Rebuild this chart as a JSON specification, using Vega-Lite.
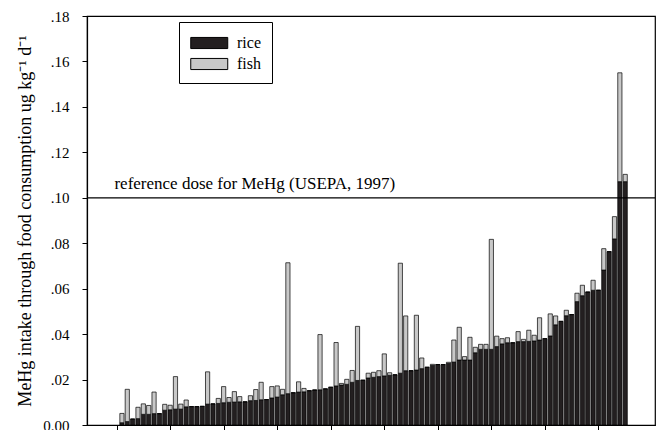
{
  "$schema": "https://vega.github.io/schema/vega-lite/v6.json",
  "width": 568,
  "height": 409,
  "autosize": {"type": "none"},
  "padding": {"left": 87, "top": 16, "right": 2, "bottom": 5},
  "background": "#ffffff",
  "config": {
    "font": "Liberation Serif",
    "view": {"stroke": "#000000", "strokeWidth": 1.2},
    "axis": {
      "domainColor": "#000000",
      "domainWidth": 1.2,
      "tickColor": "#000000",
      "tickWidth": 1,
      "tickSize": 5,
      "grid": false,
      "labelColor": "#000000",
      "labelFont": "Liberation Serif",
      "titleFont": "Liberation Serif",
      "titleColor": "#000000",
      "titleFontWeight": "normal"
    }
  },
  "layer": [
    {
      "data": {
        "values": [
          {"n": 1, "rice": 0.0010, "fish": 0.0041},
          {"n": 2, "rice": 0.0015, "fish": 0.0142},
          {"n": 3, "rice": 0.0026, "fish": 0},
          {"n": 4, "rice": 0.0028, "fish": 0.0050},
          {"n": 5, "rice": 0.0047, "fish": 0.0046},
          {"n": 6, "rice": 0.0047, "fish": 0.0039},
          {"n": 7, "rice": 0.0050, "fish": 0.0095},
          {"n": 8, "rice": 0.0050, "fish": 0},
          {"n": 9, "rice": 0.0065, "fish": 0.0026},
          {"n": 10, "rice": 0.0067, "fish": 0.0020},
          {"n": 11, "rice": 0.0070, "fish": 0.0143},
          {"n": 12, "rice": 0.0070, "fish": 0.0022},
          {"n": 13, "rice": 0.0080, "fish": 0.0030},
          {"n": 14, "rice": 0.0081, "fish": 0},
          {"n": 15, "rice": 0.0081, "fish": 0},
          {"n": 16, "rice": 0.0082, "fish": 0},
          {"n": 17, "rice": 0.0092, "fish": 0.0142},
          {"n": 18, "rice": 0.0093, "fish": 0},
          {"n": 19, "rice": 0.0095, "fish": 0.0022},
          {"n": 20, "rice": 0.0098, "fish": 0.0071},
          {"n": 21, "rice": 0.0100, "fish": 0.0021},
          {"n": 22, "rice": 0.0101, "fish": 0.0046},
          {"n": 23, "rice": 0.0102, "fish": 0.0023},
          {"n": 24, "rice": 0.0102, "fish": 0},
          {"n": 25, "rice": 0.0107, "fish": 0.0022},
          {"n": 26, "rice": 0.0108, "fish": 0.0048},
          {"n": 27, "rice": 0.0111, "fish": 0.0077},
          {"n": 28, "rice": 0.0112, "fish": 0},
          {"n": 29, "rice": 0.0119, "fish": 0.0050},
          {"n": 30, "rice": 0.0123, "fish": 0.0049},
          {"n": 31, "rice": 0.0133, "fish": 0.0024},
          {"n": 32, "rice": 0.0138, "fish": 0.0576},
          {"n": 33, "rice": 0.0142, "fish": 0},
          {"n": 34, "rice": 0.0145, "fish": 0.0045},
          {"n": 35, "rice": 0.0146, "fish": 0.0015},
          {"n": 36, "rice": 0.0151, "fish": 0},
          {"n": 37, "rice": 0.0154, "fish": 0},
          {"n": 38, "rice": 0.0155, "fish": 0.0243},
          {"n": 39, "rice": 0.0159, "fish": 0},
          {"n": 40, "rice": 0.0166, "fish": 0},
          {"n": 41, "rice": 0.0172, "fish": 0.0191},
          {"n": 42, "rice": 0.0176, "fish": 0.0007},
          {"n": 43, "rice": 0.0179, "fish": 0.0022},
          {"n": 44, "rice": 0.0188, "fish": 0.0052},
          {"n": 45, "rice": 0.0196, "fish": 0.0238},
          {"n": 46, "rice": 0.0197, "fish": 0},
          {"n": 47, "rice": 0.0207, "fish": 0.0021},
          {"n": 48, "rice": 0.0210, "fish": 0.0022},
          {"n": 49, "rice": 0.0213, "fish": 0.0026},
          {"n": 50, "rice": 0.0216, "fish": 0.0097},
          {"n": 51, "rice": 0.0219, "fish": 0.0011},
          {"n": 52, "rice": 0.0221, "fish": 0},
          {"n": 53, "rice": 0.0228, "fish": 0.0484},
          {"n": 54, "rice": 0.0239, "fish": 0.0241},
          {"n": 55, "rice": 0.0239, "fish": 0},
          {"n": 56, "rice": 0.0242, "fish": 0.0241},
          {"n": 57, "rice": 0.0248, "fish": 0.0047},
          {"n": 58, "rice": 0.0254, "fish": 0},
          {"n": 59, "rice": 0.0262, "fish": 0.0005},
          {"n": 60, "rice": 0.0266, "fish": 0},
          {"n": 61, "rice": 0.0266, "fish": 0},
          {"n": 62, "rice": 0.0271, "fish": 0.0005},
          {"n": 63, "rice": 0.0277, "fish": 0.0097},
          {"n": 64, "rice": 0.0286, "fish": 0.0144},
          {"n": 65, "rice": 0.0286, "fish": 0.0015},
          {"n": 66, "rice": 0.0286, "fish": 0.0100},
          {"n": 67, "rice": 0.0318, "fish": 0.0024},
          {"n": 68, "rice": 0.0333, "fish": 0.0022},
          {"n": 69, "rice": 0.0333, "fish": 0.0022},
          {"n": 70, "rice": 0.0333, "fish": 0.0484},
          {"n": 71, "rice": 0.0345, "fish": 0.0046},
          {"n": 72, "rice": 0.0357, "fish": 0.0023},
          {"n": 73, "rice": 0.0362, "fish": 0.0022},
          {"n": 74, "rice": 0.0362, "fish": 0},
          {"n": 75, "rice": 0.0367, "fish": 0.0044},
          {"n": 76, "rice": 0.0367, "fish": 0.0010},
          {"n": 77, "rice": 0.0368, "fish": 0.0049},
          {"n": 78, "rice": 0.0370, "fish": 0.0025},
          {"n": 79, "rice": 0.0374, "fish": 0.0098},
          {"n": 80, "rice": 0.0380, "fish": 0},
          {"n": 81, "rice": 0.0392, "fish": 0.0097},
          {"n": 82, "rice": 0.0441, "fish": 0.0039},
          {"n": 83, "rice": 0.0456, "fish": 0},
          {"n": 84, "rice": 0.0481, "fish": 0.0024},
          {"n": 85, "rice": 0.0486, "fish": 0},
          {"n": 86, "rice": 0.0543, "fish": 0.0037},
          {"n": 87, "rice": 0.0569, "fish": 0.0046},
          {"n": 88, "rice": 0.0585, "fish": 0},
          {"n": 89, "rice": 0.0593, "fish": 0.0044},
          {"n": 90, "rice": 0.0593, "fish": 0},
          {"n": 91, "rice": 0.0682, "fish": 0.0094},
          {"n": 92, "rice": 0.0763, "fish": 0},
          {"n": 93, "rice": 0.0819, "fish": 0.0098},
          {"n": 94, "rice": 0.1071, "fish": 0.0479},
          {"n": 95, "rice": 0.1071, "fish": 0.0032}
        ]
      },
      "transform": [{"fold": ["rice", "fish"], "as": ["food", "intake"]}],
      "mark": {"type": "bar", "width": 4.2, "stroke": "#000000", "strokeWidth": 0.7},
      "encoding": {
        "x": {
          "field": "n",
          "type": "quantitative",
          "scale": {"domain": [-4.59, 99.63], "nice": false, "zero": false},
          "axis": {"values": [0, 10, 20, 30, 40, 50, 60, 70, 80, 90], "labels": false, "title": null}
        },
        "y": {
          "field": "intake",
          "type": "quantitative",
          "stack": "zero",
          "scale": {"domain": [0, 0.18], "nice": false},
          "axis": {
            "values": [0, 0.02, 0.04, 0.06, 0.08, 0.1, 0.12, 0.14, 0.16, 0.18],
            "labelExpr": "datum.value === 0 ? '0.00' : replace(format(datum.value, '.2f'), '0.', '.')",
            "labelFontSize": 15,
            "labelPadding": 13,
            "title": "MeHg intake through food consumption  ug kg⁻¹ d⁻¹",
            "titleFontSize": 18,
            "titlePadding": 8
          }
        },
        "color": {
          "field": "food",
          "type": "nominal",
          "scale": {"domain": ["rice", "fish"], "range": ["#231f20", "#c8c8c8"]},
          "legend": {
            "orient": "none",
            "legendX": 92,
            "legendY": 6,
            "title": null,
            "symbolType": "M-1,-0.6H3V0.6H-1Z",
            "symbolSize": 342,
            "symbolStrokeColor": "#000000",
            "symbolStrokeWidth": 1,
            "symbolOpacity": 1,
            "labelFont": "Liberation Serif",
            "labelFontSize": 16,
            "labelColor": "#000000",
            "labelOffset": 27,
            "rowPadding": 3,
            "padding": 11,
            "strokeColor": "#000000",
            "fillColor": "#ffffff"
          }
        },
        "order": {"field": "food", "sort": "descending"}
      }
    },
    {
      "data": {"values": [{"dose": 0.1, "note": "reference dose for MeHg (USEPA, 1997)"}]},
      "layer": [
        {
          "mark": {"type": "rule", "color": "#000000", "strokeWidth": 1.2},
          "encoding": {"y": {"field": "dose", "type": "quantitative"}}
        },
        {
          "mark": {"type": "text", "align": "left", "baseline": "alphabetic", "dy": -9, "font": "Liberation Serif", "fontSize": 17, "color": "#000000"},
          "encoding": {
            "x": {"datum": -0.4},
            "y": {"field": "dose", "type": "quantitative"},
            "text": {"field": "note"}
          }
        }
      ]
    }
  ]
}
